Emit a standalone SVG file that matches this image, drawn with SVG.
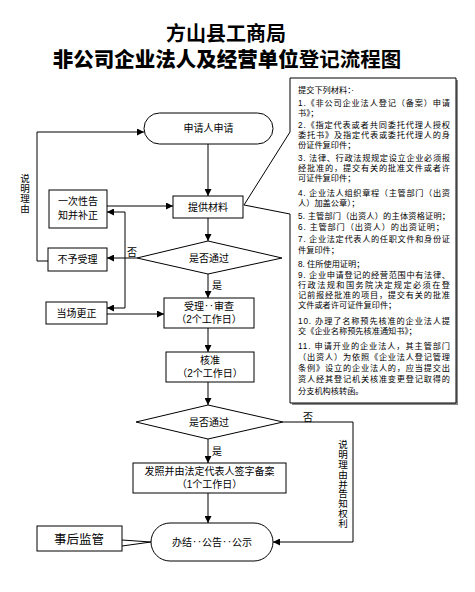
<svg xmlns="http://www.w3.org/2000/svg" width="475" height="592" viewBox="0 0 475 592">
<defs>
<marker id="ah" viewBox="0 0 10 10" refX="10" refY="5" markerWidth="7" markerHeight="7" markerUnits="userSpaceOnUse" orient="auto">
<path d="M0,0 L10,5 L0,10 Z" fill="#000"/>
</marker>
<style>
text{font-family:"Liberation Sans","Noto Sans CJK SC",sans-serif;fill:#000}
.n{fill:#fff;stroke:#000;stroke-width:1}
.t{font-size:10px;text-anchor:middle}
.c{fill:none;stroke:#000;stroke-width:1}
.a{marker-end:url(#ah)}
.m{font-size:8.2px}
.v{font-size:9.5px;writing-mode:vertical-rl;letter-spacing:0.3px;font-family:"Noto Sans CJK SC",sans-serif}
</style>
</defs>
<rect width="475" height="592" fill="#fff"/>
<g id="title">
<text x="226" y="41" font-size="20" font-weight="bold" text-anchor="middle">方山县工商局</text>
<text x="227" y="67" font-size="20.5" text-anchor="middle"><tspan font-weight="900">非公司企业法人及经营单位</tspan><tspan font-weight="bold">登记流程图</tspan></text>
</g>
<g id="connectors">
<path class="c a" d="M208,144 V196"/>
<path class="c a" d="M208,218 V241"/>
<path class="c a" d="M208,274 V298"/>
<path class="c a" d="M208,328 V352"/>
<path class="c a" d="M208,382 V405"/>
<path class="c a" d="M208,439 V463"/>
<path class="c a" d="M208,493 V523"/>
<path class="c a" d="M107,206 H173"/>
<path class="c a" d="M137,258 H107" stroke="#444" stroke-width="1.3"/>
<path class="c" d="M125,212 V308"/>
<path class="c a" d="M125,212 H107"/>
<path class="c a" d="M125,308 H107"/>
<path class="c a" d="M107,314 H164"/>
<path class="c a" d="M48,261 H37 V132 H144"/>
<path class="c a" d="M283,422 H353 V542 H273"/>
<path class="c" d="M122,540 L151,542 L122,546"/>
<text x="132" y="256" font-size="10" text-anchor="middle">否</text>
<text x="217" y="289" font-size="10" text-anchor="middle">是</text>
<text x="217" y="455" font-size="10" text-anchor="middle">是</text>
<text x="308" y="421" font-size="10" text-anchor="middle">否</text>
<text class="v" x="25" y="174">说明理由</text>
<text class="v" x="343" y="440">说明理由并告知权利</text>
</g>
<g id="start">
<rect class="n" x="144" y="113" width="129" height="31" rx="15.5"/>
<text class="t" x="208.5" y="132">申请人申请</text>
</g>
<g id="provide">
<rect class="n" x="173" y="196" width="70" height="22"/>
<text class="t" x="208" y="211">提供材料</text>
</g>
<g id="notice">
<rect class="n" x="49" y="190" width="58" height="38"/>
<text class="t"><tspan x="78" y="205">一次性告</tspan><tspan x="78" y="219">知并补正</tspan></text>
</g>
<g id="reject">
<rect class="n" x="48" y="248" width="59" height="23"/>
<text class="t" x="77.5" y="263">不予受理</text>
</g>
<g id="correct">
<rect class="n" x="46" y="302" width="61" height="22"/>
<text class="t" x="76.5" y="317">当场更正</text>
</g>
<g id="check1">
<polygon class="n" points="137,258 208,241 282,258 208,274"/>
<text class="t" x="209" y="261.5">是否通过</text>
</g>
<g id="accept">
<rect class="n" x="164" y="298" width="90" height="30"/>
<text class="t"><tspan x="209" y="310">受理‥审查</tspan><tspan x="209" y="323">（2个工作日）</tspan></text>
</g>
<g id="approve">
<rect class="n" x="166" y="352" width="88" height="30"/>
<text class="t"><tspan x="210" y="364">核准</tspan><tspan x="210" y="377">（2个工作日）</tspan></text>
</g>
<g id="check2">
<polygon class="n" points="136,422 208,405 283,422 208,439"/>
<text class="t" x="209" y="425.5">是否通过</text>
</g>
<g id="issue">
<rect class="n" x="133" y="463" width="153" height="30"/>
<text class="t"><tspan x="209.5" y="475">发照并由法定代表人签字备案</tspan><tspan x="209.5" y="488">（1个工作日）</tspan></text>
</g>
<g id="end">
<rect class="n" x="151" y="523" width="122" height="38" rx="19"/>
<text class="t" x="212" y="545.5">办结‥公告‥公示</text>
</g>
<g id="supervise">
<rect class="n" x="37" y="526" width="85" height="25"/>
<text x="79" y="543.5" font-size="12.5" text-anchor="middle">事后监管</text>
</g>
<g id="materials">
<path d="M292,80 H458 V405 H292 Z" fill="#888"/>
<path d="M290,78 H456 V403 H290 V214 L244,205 L290,132 Z" fill="#fff" stroke="#000" stroke-width="1"/>
<text class="m">
<tspan x="298" y="93">提交下列材料：·</tspan>
<tspan x="298" y="106" textLength="152" lengthAdjust="spacing">1.《非公司企业法人登记（备案）申请</tspan>
<tspan x="298" y="116">书》；</tspan>
<tspan x="298" y="127.5" textLength="152" lengthAdjust="spacing">2.《指定代表或者共同委托代理人授权</tspan>
<tspan x="298" y="137.5" textLength="152" lengthAdjust="spacing">委托书》及指定代表或委托代理人的身</tspan>
<tspan x="298" y="147.5">份证件复印件；</tspan>
<tspan x="298" y="161" textLength="152" lengthAdjust="spacing">3. 法律、行政法规规定设立企业必须报</tspan>
<tspan x="298" y="171" textLength="152" lengthAdjust="spacing">经批准的，提交有关的批准文件或者许</tspan>
<tspan x="298" y="181">可证件复印件；</tspan>
<tspan x="298" y="196" textLength="152" lengthAdjust="spacing">4. 企业法人组织章程（主管部门（出资</tspan>
<tspan x="298" y="206">人）加盖公章）；</tspan>
<tspan x="298" y="218.5" textLength="152" lengthAdjust="spacing">5. 主管部门（出资人）的主体资格证明；</tspan>
<tspan x="298" y="229.5" textLength="146" lengthAdjust="spacing">6. 主管部门（出资人）的出资证明；</tspan>
<tspan x="298" y="242" textLength="152" lengthAdjust="spacing">7. 企业法定代表人的任职文件和身份证</tspan>
<tspan x="298" y="252.5">件复印件；</tspan>
<tspan x="298" y="266.5">8. 住所使用证明；</tspan>
<tspan x="298" y="277.5" textLength="152" lengthAdjust="spacing">9. 企业申请登记的经营范围中有法律、</tspan>
<tspan x="298" y="287.5" textLength="152" lengthAdjust="spacing">行政法规和国务院决定规定必须在登</tspan>
<tspan x="298" y="297.5" textLength="152" lengthAdjust="spacing">记前报经批准的项目，提交有关的批准</tspan>
<tspan x="298" y="307.5">文件或者许可证件复印件；</tspan>
<tspan x="298" y="323.5" textLength="152" lengthAdjust="spacing">10. 办理了名称预先核准的企业法人提</tspan>
<tspan x="298" y="333.5">交《企业名称预先核准通知书》；</tspan>
<tspan x="298" y="349" textLength="152" lengthAdjust="spacing">11. 申请开业的企业法人，其主管部门</tspan>
<tspan x="298" y="360" textLength="152" lengthAdjust="spacing">（出资人）为依照《企业法人登记管理</tspan>
<tspan x="298" y="371" textLength="152" lengthAdjust="spacing">条例》设立的企业法人的，应当提交出</tspan>
<tspan x="298" y="382" textLength="152" lengthAdjust="spacing">资人经其登记机关核准变更登记取得的</tspan>
<tspan x="298" y="393.5">分支机构核转函。</tspan>
</text>
</g>
</svg>
